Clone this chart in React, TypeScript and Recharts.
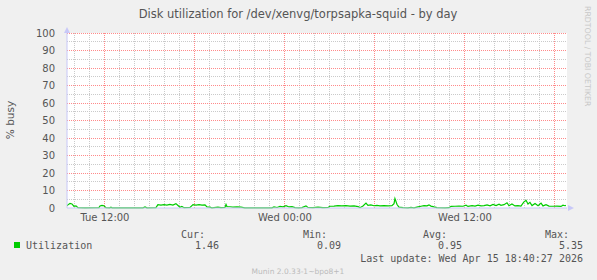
import React from "react";
import { LineChart, Line, XAxis, YAxis, CartesianGrid, ReferenceLine } from "recharts";

// hours since Tue 00:00
const hours: number[] = [
  9.47, 9.53, 9.67, 9.8, 9.93, 10.07, 10.2, 10.67, 11.6, 11.67, 11.8, 11.93, 12.07, 12.33, 12.4, 12.47,
  14.53, 14.67, 14.8, 15.4, 15.53, 15.73, 15.93, 16.13, 16.33, 16.53, 16.73, 16.87, 17.0, 17.13, 17.27,
  17.67, 17.87, 18.07, 18.27, 18.47, 18.67, 18.8, 19.0, 19.13, 19.53, 19.73, 20.0, 20.07, 20.13, 20.33,
  20.53, 20.8, 21.07, 21.33, 23.13, 23.27, 23.47, 23.67, 23.87, 24.07, 24.27, 24.47, 24.67, 24.93,
  25.13, 25.4, 25.53, 25.87, 26.2, 26.53, 26.87, 27.0, 27.27, 27.53, 27.8, 28.07, 28.33, 28.6, 28.87,
  29.0, 29.2, 29.4, 29.53, 29.73, 29.93, 30.13, 30.33, 30.6, 30.87, 31.13, 31.27, 31.33, 31.47, 31.6,
  31.87, 32.2, 32.4, 32.6, 32.87, 33.07, 33.27, 33.47, 33.6, 33.73, 33.93, 34.13, 34.67, 34.93, 35.07,
  35.33, 35.6, 35.87, 36.07, 36.2, 36.47, 36.67, 36.87, 37.07, 37.27, 37.47, 37.67, 37.87, 38.07, 38.27,
  38.4, 38.6, 38.8, 38.93, 39.13, 39.33, 39.53, 39.73, 39.93, 40.07, 40.2, 40.33, 40.47, 40.67, 40.87,
  41.07, 41.2, 41.4, 41.6, 41.87, 42.13, 42.4, 42.53, 42.67, 42.73,
];
const utilization: number[] = [
  1.2, 1.8, 2.6, 2.3, 1.0, 1.2, 0.2, 0.1, 0.2, 1.2, 1.5, 1.3, 0.2, 0.1, 0.5, 0.1,
  0.1, 0.6, 0.1, 0.2, 1.9, 1.6, 1.9, 1.7, 2.1, 1.7, 2.5, 1.4, 0.4, 0.9, 0.2,
  0.3, 1.9, 1.7, 1.9, 1.6, 1.8, 0.6, 0.5, 0.1, 0.5, 0.2, 0.3, 2.0, 0.8, 0.7,
  0.5, 0.6, 0.5, 0.1, 0.1, 0.6, 0.3, 0.9, 0.7, 1.3, 0.6, 0.8, 0.2, 0.1,
  0.2, 1.2, 0.3, 0.2, 0.5, 0.2, 0.3, 1.0, 1.1, 1.3, 1.2, 1.4, 1.1, 1.2, 0.8,
  0.2, 1.2, 2.8, 1.5, 1.8, 1.3, 1.5, 1.2, 1.4, 1.2, 1.3, 2.5, 5.35, 2.0, 0.5,
  0.2, 0.1, 0.4, 0.1, 0.6, 1.0, 1.3, 1.2, 1.8, 1.1, 0.6, 0.2, 0.1, 0.2, 0.9,
  1.0, 1.1, 1.0, 1.6, 0.9, 1.3, 1.1, 1.6, 1.2, 1.4, 1.8, 1.2, 2.0, 1.4, 2.2,
  1.5, 1.9, 3.0, 1.3, 2.3, 1.2, 1.4, 1.1, 3.5, 4.4, 2.3, 3.2, 1.4, 2.6, 1.3,
  2.8, 1.2, 1.9, 1.1, 1.0, 1.1, 0.9, 1.6, 1.3, 1.46,
];

const xTicks: number[] = [12, 24, 36];
const xTickLabels: string[] = ["Tue 12:00", "Wed 00:00", "Wed 12:00"];
const yTicks: number[] = [0, 10, 20, 30, 40, 50, 60, 70, 80, 90, 100];
const minorX: number[] = [10, 11, 13, 14, 15, 16, 17, 19, 20, 21, 22, 23, 25, 26, 27, 28, 29, 31, 32, 33, 34, 35, 37, 38, 39, 40, 41];
const majorX: number[] = [12, 18, 24, 30, 36, 42];
const minorY: number[] = [5, 15, 25, 35, 45, 55, 65, 75, 85, 95];
const majorY: number[] = [10, 20, 30, 40, 50, 60, 70, 80, 90, 100];

const legendName = "Utilization";
const statLabels: string[] = ["Cur:", "Min:", "Avg:", "Max:"];
const statValues: string[] = ["1.46", "0.09", "0.95", "5.35"];

const data = hours.map((h, i) => ({ h, v: utilization[i] }));

const MINOR = "#cacaca";
const MAJOR = "#ff8a8a";
const AXIS = "#c8c8f8";
const TXT = "#555555";
const SANS = "'DejaVu Sans', sans-serif";
const MONO = "'DejaVu Sans Mono', monospace";

export default function App() {
  const statRight = [205, 327, 447, 569];
  const valRight = [219, 341, 462, 583];
  return (
    <div style={{ position: "absolute", left: 0, top: 0, width: 597, height: 280, background: "#f0f0f0", overflow: "hidden" }}>
      <LineChart width={597} height={280} data={data} margin={{ top: 33, right: 30, bottom: 52, left: 30 }}>
        <CartesianGrid fill="#ffffff" horizontal={false} vertical={false} stroke="none" />
        {minorX.map((x) => (
          <ReferenceLine key={"mx" + x} x={x} stroke={MINOR} strokeDasharray="1 1" strokeWidth={1} shapeRendering="crispEdges" />
        ))}
        {minorY.map((y) => (
          <ReferenceLine key={"my" + y} y={y} stroke={MINOR} strokeDasharray="1 1" strokeWidth={1} shapeRendering="crispEdges" />
        ))}
        {majorX.map((x) => (
          <ReferenceLine key={"Mx" + x} x={x} stroke={MAJOR} strokeDasharray="1 1" strokeWidth={1} shapeRendering="crispEdges" />
        ))}
        {majorY.map((y) => (
          <ReferenceLine key={"My" + y} y={y} stroke={MAJOR} strokeDasharray="1 1" strokeWidth={1} shapeRendering="crispEdges" />
        ))}
        <XAxis
          dataKey="h"
          type="number"
          domain={[9.47, 42.8]}
          ticks={xTicks}
          tickFormatter={(v: number) => xTickLabels[xTicks.indexOf(v)]}
          tickLine={false}
          axisLine={{ stroke: AXIS }}
          height={20}
          tick={{ fill: TXT, fontSize: 10, fontFamily: SANS }}
          tickMargin={0}
          allowDataOverflow
        />
        <YAxis
          type="number"
          domain={[0, 100]}
          ticks={yTicks}
          tickLine={false}
          axisLine={{ stroke: AXIS }}
          width={37}
          tick={{ fill: TXT, fontSize: 10, fontFamily: SANS }}
          tickMargin={6}
          interval={0}
        />
        <Line dataKey="v" type="linear" stroke="#00cc00" strokeWidth={1.2} dot={false} isAnimationActive={false} />
      </LineChart>
      <svg width={597} height={280} style={{ position: "absolute", left: 0, top: 0, pointerEvents: "none" }}>
        <polygon points="64,33 70,33 67,27" fill={AXIS} />
        <polygon points="568,205 568,211 574,208" fill={AXIS} />
        <text x={298} y={18} textAnchor="middle" fontFamily={SANS} fontSize={11.5} fill={TXT}>
          Disk utilization for /dev/xenvg/torpsapka-squid - by day
        </text>
        <text x={14} y={120} textAnchor="middle" fontFamily={SANS} fontSize={10.5} fill={TXT} transform="rotate(-90 14 120)">
          % busy
        </text>
        <text x={585} y={6} fontFamily={SANS} fontSize={7.8} fill="#c8c8c8" transform="rotate(90 585 6)">
          RRDTOOL / TOBI OETIKER
        </text>
        <rect x={14} y={242} width={6} height={6} fill="#00cc00" />
        <text x={26} y={249} fontFamily={MONO} fontSize={10} fill={TXT}>{legendName}</text>
        {statLabels.map((s, i) => (
          <text key={s} x={statRight[i]} y={238} textAnchor="end" fontFamily={MONO} fontSize={10} fill={TXT}>{s}</text>
        ))}
        {statValues.map((s, i) => (
          <text key={i} x={valRight[i]} y={249} textAnchor="end" fontFamily={MONO} fontSize={10} fill={TXT}>{s}</text>
        ))}
        <text x={583} y={262} textAnchor="end" fontFamily={MONO} fontSize={10} fill={TXT}>
          Last update: Wed Apr 15 18:40:27 2026
        </text>
        <text x={298} y={274} textAnchor="middle" fontFamily={SANS} fontSize={7.5} fill="#bbbbbb">
          Munin 2.0.33-1~bpo8+1
        </text>
      </svg>
    </div>
  );
}
